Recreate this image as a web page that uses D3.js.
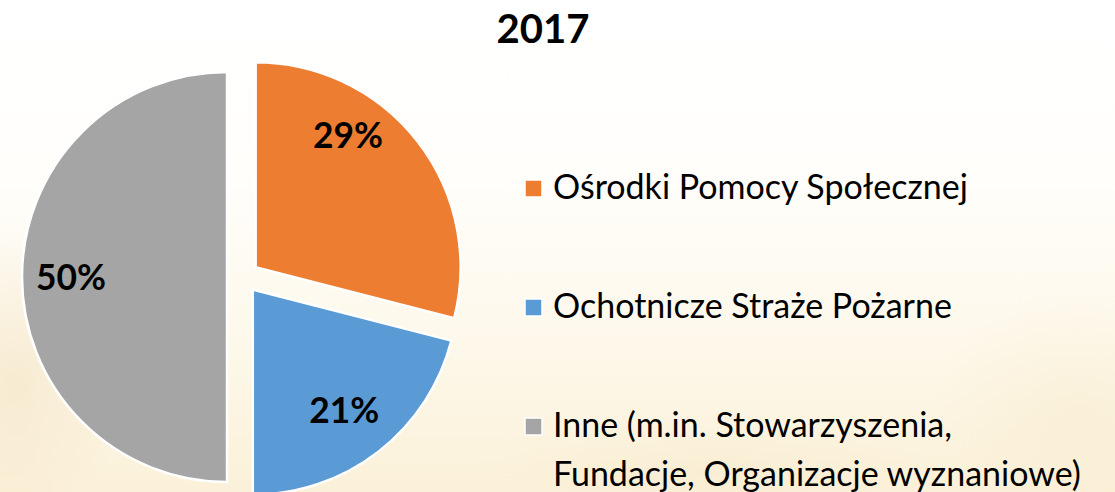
<!DOCTYPE html>
<html>
<head>
<meta charset="utf-8">
<script src="https://cdn.jsdelivr.net/npm/d3@7"></script>
<style>
  html, body { margin: 0; padding: 0; background: #fff; }
  svg { display: block; }
</style>
</head>
<body>
<svg id="chart" width="1115" height="492"></svg>
<script>
// ---- data ----
const title = "2017";
const categories = ["Ośrodki Pomocy Społecznej", "Ochotnicze Straże Pożarne", "Inne (m.in. Stowarzyszenia, Fundacje, Organizacje wyznaniowe)"];
const legendLines = [["Ośrodki Pomocy Społecznej"], ["Ochotnicze Straże Pożarne"], ["Inne (m.in. Stowarzyszenia,", "Fundacje, Organizacje wyznaniowe)"]];
const values = [29, 21, 50];
const valueLabels = ["29%", "21%", "50%"];
const colors = ["#ED7D31", "#5B9BD5", "#A5A5A5"];

// ---- layout ----
const W = 1115, H = 492;
const svg = d3.select("#chart");
const defs = svg.append("defs");

// background (approximation of the faded photo)
const lg = defs.append("linearGradient").attr("id", "bg").attr("x1", 0).attr("y1", 0).attr("x2", 0).attr("y2", 1);
lg.append("stop").attr("offset", "0%").attr("stop-color", "#ffffff");
lg.append("stop").attr("offset", "35%").attr("stop-color", "#fffefb");
lg.append("stop").attr("offset", "70%").attr("stop-color", "#fdf8ea");
lg.append("stop").attr("offset", "100%").attr("stop-color", "#fbf1d9");
svg.append("rect").attr("width", W).attr("height", H).attr("fill", "url(#bg)");
const rg1 = defs.append("radialGradient").attr("id", "warm1");
rg1.append("stop").attr("offset", "0%").attr("stop-color", "#f0dcb8").attr("stop-opacity", 0.45);
rg1.append("stop").attr("offset", "100%").attr("stop-color", "#f0dcb8").attr("stop-opacity", 0);
svg.append("ellipse").attr("cx", 15).attr("cy", 380).attr("rx", 110).attr("ry", 150).attr("fill", "url(#warm1)");
const rg2 = defs.append("radialGradient").attr("id", "warm2");
rg2.append("stop").attr("offset", "0%").attr("stop-color", "#f6e8c8").attr("stop-opacity", 0.4);
rg2.append("stop").attr("offset", "100%").attr("stop-color", "#f6e8c8").attr("stop-opacity", 0);
svg.append("ellipse").attr("cx", 1080).attr("cy", 420).attr("rx", 150).attr("ry", 130).attr("fill", "url(#warm2)");
svg.append("ellipse").attr("cx", 720).attr("cy", 470).attr("rx", 240).attr("ry", 50).attr("fill", "url(#warm2)");

const FONT = "Lato, 'Open Sans', sans-serif";
function fitFont(sel, target) {
  const w = sel.node().getComputedTextLength();
  const fs = parseFloat(sel.attr("font-size"));
  sel.attr("font-size", fs * target / w);
  return fs * target / w;
}

// title
const t = svg.append("text").attr("x", 543).attr("y", 43).attr("text-anchor", "middle")
  .attr("font-family", FONT).attr("font-weight", "bold").attr("font-size", 40).attr("fill", "#000").text(title);
fitFont(t, 93);

// pie
const cx = 243, cy = 277, R = 205, explode = 16;
const pie = d3.pie().sort(null).value(d => d).startAngle(0).endAngle(2 * Math.PI);
const arcs = pie(values);
const arc = d3.arc().innerRadius(0).outerRadius(R);
const g = svg.append("g").attr("transform", `translate(${cx},${cy})`);
const slices = g.selectAll("g.slice").data(arcs).join("g").attr("class", "slice")
  .attr("transform", d => {
    const a = (d.startAngle + d.endAngle) / 2;
    return `translate(${explode * Math.sin(a)},${-explode * Math.cos(a)})`;
  });
slices.append("path").attr("d", arc).attr("fill", (d, i) => colors[i])
  .attr("stroke", "#fff").attr("stroke-width", 2.5).attr("stroke-linejoin", "miter");

// data labels (Excel best-fit placement; first label nudged toward the top)
const labelR = [161, 151, 156];
const labelShift = [-0.30, 0.01, 0];
slices.each(function(d, i) {
  const a = (d.startAngle + d.endAngle) / 2 + labelShift[i];
  const lx = labelR[i] * Math.sin(a), ly = -labelR[i] * Math.cos(a);
  const txt = d3.select(this).append("text").attr("x", lx).attr("text-anchor", "middle")
    .attr("font-family", FONT).attr("font-weight", "bold").attr("font-size", 34).attr("fill", "#000")
    .text(valueLabels[i]);
  const fs = fitFont(txt, 70);
  txt.attr("y", ly + 0.36 * fs);
});

// legend
const lgX = 525, sq = 17, txtX = 553;
const baselines = d3.scaleLinear().domain([0, 2]).range([199, 437]);
const lineH = 49;
const leg = svg.append("g");
let legendFont = null;
legendLines.forEach((lines, i) => {
  const b = baselines(i);
  leg.append("rect").attr("x", lgX).attr("y", b - 19).attr("width", sq).attr("height", sq)
    .attr("fill", colors[i]).attr("stroke", "#fff").attr("stroke-width", 1.5);
  lines.forEach((ln, j) => {
    const tx = leg.append("text").attr("x", txtX).attr("y", b + j * lineH)
      .attr("font-family", FONT).attr("font-size", 31).attr("fill", "#000").text(ln);
    if (i === 0 && j === 0) legendFont = fitFont(tx, 415);
    else tx.attr("font-size", legendFont);
  });
});
</script>
</body>
</html>
